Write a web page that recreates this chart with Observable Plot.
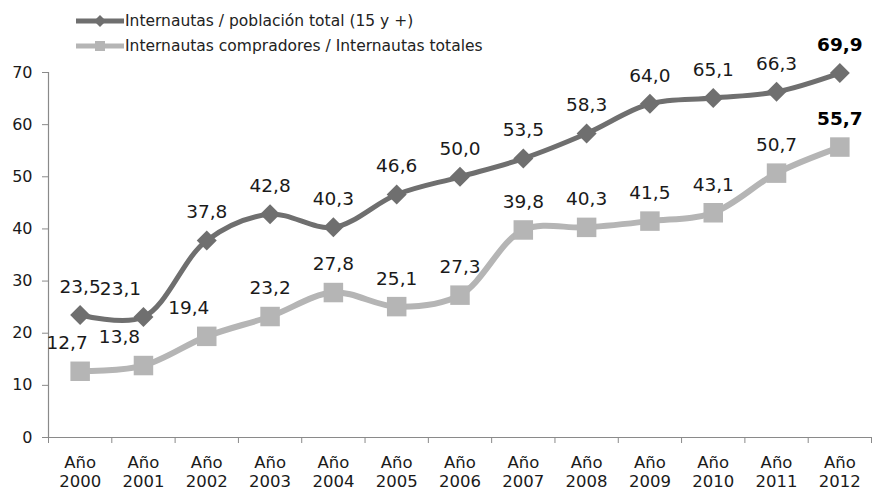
<!DOCTYPE html>
<html>
<head>
<meta charset="utf-8">
<script src="https://cdn.jsdelivr.net/npm/d3@7"></script>
<script src="https://cdn.jsdelivr.net/npm/@observablehq/plot@0.6"></script>
<style>
  body { margin: 0; background: #fff; }
  #wrap { position: relative; width: 873px; height: 492px; font-family: "DejaVu Sans", Verdana, sans-serif; }
  #legend { position: absolute; left: 76px; top: 8px; font-size: 15.5px; color: #222; }
  .row { display: flex; align-items: center; height: 25px; }
  .row svg { margin-right: 1px; }
</style>
</head>
<body>
<div id="wrap">
  <div id="chart"></div>
  <div id="legend"></div>
</div>
<script>
const years = ["2000","2001","2002","2003","2004","2005","2006","2007","2008","2009","2010","2011","2012"];
const seriesNames = ["Internautas / población total (15 y +)", "Internautas compradores / Internautas totales"];
const internautas = [23.5, 23.1, 37.8, 42.8, 40.3, 46.6, 50.0, 53.5, 58.3, 64.0, 65.1, 66.3, 69.9];
const compradores = [12.7, 13.8, 19.4, 23.2, 27.8, 25.1, 27.3, 39.8, 40.3, 41.5, 43.1, 50.7, 55.7];
const yTicks = [0, 10, 20, 30, 40, 50, 60, 70];

const colors = ["#6f6f6f", "#b5b5b5"];
const symbols = ["diamond2", "square"];
const radii = [9, 11];
const widths = [5, 6];

// label nudges (style only) to avoid overlaps, as in the reference
const nudge = {"0-2001": -23, "1-2000": -13, "1-2001": -24, "1-2002": -18};

const data = [];
[internautas, compradores].forEach((arr, s) => {
  arr.forEach((v, i) => data.push({s, i, year: years[i], v, last: i === years.length - 1}));
});
const fmt = v => v.toFixed(1).replace(".", ",");
const dxOf = r => nudge[r.s + "-" + r.year] || 0;

const marks = [];
marks.push(Plot.ruleY([0], {x1: -0.5, x2: years.length - 0.5, stroke: "#8a8a8a", strokeWidth: 1.2}));
marks.push(Plot.ruleX([-0.5], {y1: 0, y2: 70, stroke: "#8a8a8a", strokeWidth: 1.2}));
marks.push(Plot.axisY({ticks: yTicks, tickSize: 6, tickPadding: 10, fontSize: 16, stroke: "#8a8a8a", fill: "#1a1a1a", label: null}));
marks.push(Plot.axisX({ticks: d3.range(years.length + 1).map(k => k - 0.5), tickSize: 6, tickFormat: () => "", stroke: "#8a8a8a", label: null}));
marks.push(Plot.axisX({ticks: d3.range(years.length), tickSize: 0, tickPadding: 16, tickFormat: i => "Año\n" + years[i], fontSize: 16.5, lineHeight: 1.2, fill: "#1a1a1a", label: null}));

[0, 1].forEach(s => {
  const d = data.filter(r => r.s === s);
  marks.push(Plot.line(d, {x: "i", y: "v", stroke: colors[s], strokeWidth: widths[s], curve: "catmull-rom"}));
  marks.push(Plot.dot(d, {x: "i", y: "v", fill: colors[s], symbol: symbols[s], r: radii[s], stroke: null}));
});
d3.groups(data.filter(r => !r.last), dxOf).forEach(([dx, rows]) =>
  marks.push(Plot.text(rows, {x: "i", y: "v", text: r => fmt(r.v), dy: -28, dx, fontSize: 18.5, fill: "#1a1a1a"})));
marks.push(Plot.text(data.filter(r => r.last), {x: "i", y: "v", text: r => fmt(r.v), dy: -28, fontSize: 18.5, fontWeight: "bold", fill: "#000"}));

const chart = Plot.plot({
  width: 873,
  height: 492,
  marginTop: 72,
  marginBottom: 55,
  marginLeft: 48,
  marginRight: 2,
  style: {fontFamily: "DejaVu Sans, Verdana, sans-serif", background: "#fff", overflow: "visible"},
  x: {type: "linear", domain: [-0.5, years.length - 0.5], axis: null},
  y: {domain: [0, 70], axis: null},
  marks
});
document.getElementById("chart").appendChild(chart);

// legend
const legend = document.getElementById("legend");
seriesNames.forEach((name, s) => {
  const row = document.createElement("div");
  row.className = "row";
  const sw = d3.create("svg").attr("width", 48).attr("height", 16);
  sw.append("line").attr("x1", 0).attr("x2", 48).attr("y1", 8).attr("y2", 8)
    .attr("stroke", colors[s]).attr("stroke-width", 5);
  if (s === 0) {
    sw.append("path").attr("d", "M24,2L30,8L24,14L18,8Z").attr("fill", colors[s]);
  } else {
    sw.append("rect").attr("x", 19).attr("y", 3).attr("width", 10).attr("height", 10).attr("fill", colors[s]);
  }
  row.appendChild(sw.node());
  const t = document.createElement("span");
  t.textContent = name;
  row.appendChild(t);
  legend.appendChild(row);
});
</script>
</body>
</html>
